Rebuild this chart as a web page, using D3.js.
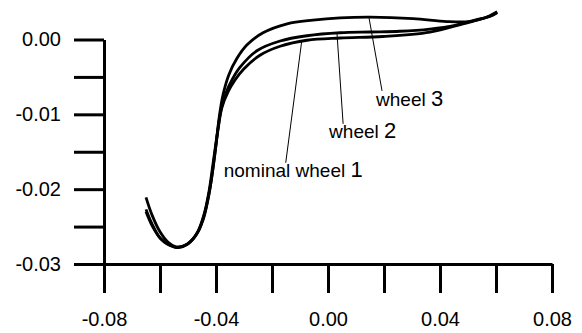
<!DOCTYPE html>
<html>
<head>
<meta charset="utf-8">
<script src="https://cdn.jsdelivr.net/npm/d3@7"></script>
<style>
  html, body { margin: 0; padding: 0; background: #fff; }
  svg { display: block; }
  text { font-family: "Liberation Sans", Arial, sans-serif; fill: #000; }
</style>
</head>
<body>
<svg id="chart" width="582" height="333"></svg>
<script>
// Lateral position (x) vs. vertical displacement (y) for three wheel profiles.
const nominalX = [-0.0650, -0.0625, -0.0596, -0.0564, -0.0536, -0.0500, -0.0464, -0.0439, -0.0421, -0.0407, -0.0393, -0.0379, -0.0357, -0.0332, -0.0300, -0.0243, -0.0171, -0.0075, 0.0043, 0.0196, 0.0364, 0.0482, 0.0579, 0.0604];
const nominalY = [-0.0230, -0.0251, -0.0267, -0.0275, -0.0278, -0.0273, -0.0257, -0.0230, -0.0198, -0.0161, -0.0121, -0.0091, -0.0070, -0.0054, -0.0039, -0.0021, -0.0009, -0.0001, 0.0002, 0.0004, 0.0010, 0.0021, 0.0031, 0.0036];

const wheel2X = [-0.0650, -0.0629, -0.0600, -0.0571, -0.0539, -0.0504, -0.0468, -0.0443, -0.0425, -0.0411, -0.0396, -0.0382, -0.0364, -0.0343, -0.0314, -0.0254, -0.0171, -0.0075, 0.0043, 0.0150, 0.0257, 0.0364, 0.0454, 0.0525, 0.0579, 0.0604];
const wheel2Y = [-0.0227, -0.0246, -0.0265, -0.0274, -0.0278, -0.0274, -0.0259, -0.0234, -0.0203, -0.0167, -0.0127, -0.0094, -0.0071, -0.0054, -0.0037, -0.0015, -0.0002, 0.0005, 0.0009, 0.0010, 0.0011, 0.0014, 0.0019, 0.0026, 0.0031, 0.0036];

const wheel3X = [-0.0650, -0.0629, -0.0600, -0.0571, -0.0543, -0.0511, -0.0475, -0.0446, -0.0429, -0.0414, -0.0400, -0.0389, -0.0375, -0.0354, -0.0325, -0.0289, -0.0232, -0.0146, -0.0054, 0.0043, 0.0150, 0.0304, 0.0425, 0.0507, 0.0561, 0.0604];
const wheel3Y = [-0.0211, -0.0234, -0.0257, -0.0271, -0.0277, -0.0275, -0.0263, -0.0241, -0.0214, -0.0181, -0.0141, -0.0105, -0.0074, -0.0047, -0.0025, -0.0007, 0.0009, 0.0021, 0.0026, 0.0029, 0.0030, 0.0028, 0.0024, 0.0024, 0.0029, 0.0037];

const xTicks = [-0.08, -0.06, -0.04, -0.02, 0.00, 0.02, 0.04, 0.06, 0.08];
const xTickLabels = ["-0.08", "", "-0.04", "", "0.00", "", "0.04", "", "0.08"];
const yTicks = [0.000, -0.005, -0.010, -0.015, -0.020, -0.025, -0.030];
const yTickLabels = ["0.00", "", "-0.01", "", "-0.02", "", "-0.03"];

const seriesNames = ["nominal wheel ", "wheel ", "wheel "];
const seriesNumbers = ["1", "2", "3"];

// Where each callout leaves its curve (data units) and where its leader ends.
const calloutAnchorX = [-0.0094, 0.0032, 0.0146];
const calloutEndX = [-0.0151, 0.0054, 0.0193];
const calloutEndY = [-0.01647, -0.01127, -0.00687];

const series = [
  { x: nominalX, y: nominalY },
  { x: wheel2X, y: wheel2Y },
  { x: wheel3X, y: wheel3Y }
];

const svg = d3.select("#chart");
svg.append("rect").attr("width", 582).attr("height", 333).attr("fill", "#fff");

const x = d3.scaleLinear().domain([-0.08, 0.08]).range([104, 552]);
const y = d3.scaleLinear().domain([-0.03, 0.0]).range([264, 39.5]);

// Axes: thick lines with outward ticks
const xAxis = d3.axisBottom(x)
  .tickValues(xTicks)
  .tickSize(29)
  .tickSizeOuter(0)
  .tickPadding(4)
  .tickFormat((d, i) => xTickLabels[i]);
const gx = svg.append("g").attr("transform", `translate(0,${y(-0.03)})`).call(xAxis);
gx.select(".domain").attr("stroke", "#000").attr("stroke-width", 3);
gx.selectAll(".tick line").attr("stroke", "#000").attr("stroke-width", 3);
gx.selectAll(".tick text")
  .attr("font-size", 20)
  .attr("font-family", "Liberation Sans, Arial, sans-serif")
  .attr("fill", "#000")
  .attr("dy", "1.45em");

const yAxis = d3.axisLeft(y)
  .tickValues(yTicks)
  .tickSize(30)
  .tickSizeOuter(0)
  .tickPadding(13)
  .tickFormat((d, i) => yTickLabels[i]);
const gy = svg.append("g").attr("transform", `translate(${x(-0.08)},0)`).call(yAxis);
gy.select(".domain").attr("stroke", "#000").attr("stroke-width", 3);
gy.selectAll(".tick line").attr("stroke", "#000").attr("stroke-width", 3);
gy.selectAll(".tick text")
  .attr("font-size", 20)
  .attr("font-family", "Liberation Sans, Arial, sans-serif")
  .attr("fill", "#000");

// Profile curves
const line = d3.line()
  .x(d => x(d[0]))
  .y(d => y(d[1]))
  .curve(d3.curveCatmullRom.alpha(0.5));

series.forEach(s => {
  const pts = s.x.map((v, i) => [v, s.y[i]]);
  svg.append("path")
    .datum(pts)
    .attr("d", line)
    .attr("fill", "none")
    .attr("stroke", "#000")
    .attr("stroke-width", 2.8)
    .attr("stroke-linejoin", "round")
    .attr("stroke-linecap", "butt");
});

// Callouts with thin leader lines
const labelOffsets = [[-62, 14], [-14, 14], [-6, 15.5]];
series.forEach((s, i) => {
  const ax = calloutAnchorX[i];
  const ay = d3.scaleLinear().domain(s.x).range(s.y)(ax);
  const ex = x(calloutEndX[i]);
  const ey = y(calloutEndY[i]);
  svg.append("line")
    .attr("x1", x(ax)).attr("y1", y(ay))
    .attr("x2", ex).attr("y2", ey)
    .attr("stroke", "#000")
    .attr("stroke-width", 1);
  const t = svg.append("text")
    .attr("x", ex + labelOffsets[i][0])
    .attr("y", ey + labelOffsets[i][1])
    .attr("font-size", 19);
  t.append("tspan").text(seriesNames[i]);
  t.append("tspan").attr("font-size", 22).text(seriesNumbers[i]);
});
</script>
</body>
</html>
